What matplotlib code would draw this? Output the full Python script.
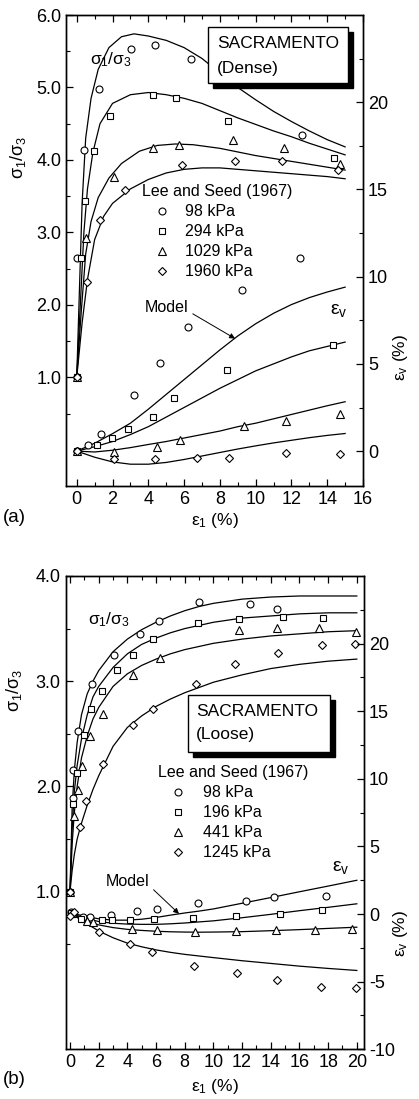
import matplotlib
matplotlib.use("Agg")
import matplotlib.pyplot as plt
from matplotlib.patches import Rectangle
from matplotlib.ticker import MultipleLocator, FixedLocator

plt.rcParams['font.family'] = ['Liberation Sans', 'DejaVu Sans']
plt.rcParams['mathtext.fontset'] = 'custom'
plt.rcParams['mathtext.rm'] = 'Liberation Sans'
plt.rcParams['mathtext.it'] = 'Liberation Sans'
plt.rcParams['mathtext.sf'] = 'Liberation Sans'
plt.rcParams['axes.unicode_minus'] = False
plt.rcParams['font.size'] = 12

W, H = 419, 1099
TICKFS = 13

# ---------------- (a) dense: Lee and Seed (1967) data ----------------
dense_labels = ['98 kPa', '294 kPa', '1029 kPa', '1960 kPa']

dense_q_x98 = [0, 0.0, 0.41, 1.24, 3.04, 4.35, 6.39, 12.6]
dense_q_y98 = [1.0, 2.65, 4.14, 4.98, 5.53, 5.58, 5.39, 4.34]
dense_q_x294 = [0, 0.25, 0.46, 0.96, 1.87, 4.24, 5.56, 8.46, 14.39]
dense_q_y294 = [1.0, 2.65, 3.43, 4.12, 4.61, 4.90, 4.86, 4.54, 4.03]
dense_q_x1029 = [0, 0.54, 2.07, 4.28, 5.7, 8.72, 11.59, 14.74]
dense_q_y1029 = [1.0, 2.92, 3.77, 4.17, 4.21, 4.27, 4.16, 3.95]
dense_q_x1960 = [0, 0.57, 1.31, 2.72, 5.89, 8.83, 11.5, 14.61]
dense_q_y1960 = [1.0, 2.31, 3.17, 3.59, 3.93, 3.98, 3.98, 3.86]

dense_ev_x98 = [0, 0.65, 1.33, 3.2, 4.65, 6.22, 9.24, 12.5]
dense_ev_y98 = [0, 0.36, 0.96, 3.2, 5.04, 7.13, 9.25, 11.05]
dense_ev_x294 = [0, 1.13, 1.98, 2.85, 4.28, 5.43, 8.41, 14.33]
dense_ev_y294 = [0, 0.33, 0.75, 1.28, 1.95, 3.03, 4.64, 6.09]
dense_ev_x1029 = [0, 2.11, 4.46, 5.76, 9.37, 11.67, 14.7]
dense_ev_y1029 = [0, -0.06, 0.25, 0.61, 1.44, 1.71, 2.11]
dense_ev_x1960 = [0, 2.11, 4.39, 6.7, 8.5, 11.68, 14.7]
dense_ev_y1960 = [0, -0.48, -0.48, -0.38, -0.38, -0.11, -0.17]

# model curves (dense)
dm_q_x98 = [0, 0.15, 0.3, 0.5, 0.8, 1.2, 1.8, 2.5, 3.2, 4, 5, 6, 7, 8, 9, 10, 11, 12, 13, 14, 15]
dm_q_y98 = [1.0, 2.2, 3.4, 4.3, 4.85, 5.25, 5.55, 5.7, 5.74, 5.71, 5.65, 5.55, 5.4, 5.2, 5.0,
            4.83, 4.67, 4.53, 4.4, 4.28, 4.18]
dm_q_x294 = [0, 0.2, 0.4, 0.6, 0.9, 1.3, 2, 3, 4, 5, 6, 7, 8, 9, 10, 11, 12, 13, 14, 15]
dm_q_y294 = [1.0, 2.0, 3.0, 3.6, 4.1, 4.5, 4.78, 4.9, 4.93, 4.9, 4.85, 4.78, 4.68, 4.58,
             4.49, 4.4, 4.32, 4.23, 4.15, 4.07]
dm_q_x1029 = [0, 0.25, 0.5, 0.8, 1.2, 1.8, 2.5, 3.5, 4.5, 5.5, 6.5, 8, 9, 10, 11, 12, 13, 14, 15]
dm_q_y1029 = [1.0, 1.9, 2.7, 3.15, 3.48, 3.75, 3.95, 4.12, 4.2, 4.22, 4.21, 4.16, 4.11,
              4.06, 4.02, 3.98, 3.94, 3.9, 3.86]
dm_q_x1960 = [0, 0.3, 0.6, 1, 1.5, 2, 3, 4, 5, 6, 7, 8, 9, 10, 11, 12, 13, 14, 15]
dm_q_y1960 = [1.0, 1.75, 2.35, 2.9, 3.22, 3.4, 3.6, 3.73, 3.82, 3.87, 3.89, 3.89, 3.87,
              3.85, 3.83, 3.81, 3.79, 3.77, 3.74]

dm_ev_x = [0, 1, 2, 3, 4, 5, 6, 7, 8, 9, 10, 11, 12, 13, 14, 15]
dm_ev_y98 = [0, 0.45, 1.0, 1.6, 2.4, 3.25, 4.1, 4.95, 5.8, 6.6, 7.3, 7.9, 8.4, 8.8, 9.12, 9.4]
dm_ev_y294 = [0, 0.25, 0.55, 0.95, 1.4, 1.95, 2.5, 3.05, 3.6, 4.1, 4.6, 5.0, 5.4, 5.75, 6.0, 6.25]
dm_ev_y1029 = [0, -0.05, 0.05, 0.2, 0.38, 0.55, 0.75, 0.95, 1.15, 1.4, 1.6, 1.85, 2.1, 2.35, 2.6, 2.83]
dm_ev_y1960 = [0, -0.35, -0.62, -0.75, -0.75, -0.65, -0.48, -0.28, -0.08, 0.12, 0.3, 0.47,
               0.62, 0.77, 0.9, 1.01]

# ---------------- (b) loose ----------------
loose_labels = ['98 kPa', '196 kPa', '441 kPa', '1245 kPa']

loose_q_x98 = [0, 0.19, 0.23, 0.58, 1.51, 3.07, 4.88, 6.22, 9.01, 12.54, 14.45]
loose_q_y98 = [1.0, 1.89, 2.16, 2.53, 2.97, 3.25, 3.45, 3.57, 3.75, 3.73, 3.69]
loose_q_x196 = [0, 0.23, 0.51, 0.98, 1.44, 2.21, 3.25, 4.41, 5.76, 8.94, 11.8, 14.86, 17.65]
loose_q_y196 = [1.0, 1.83, 2.13, 2.49, 2.74, 2.91, 3.11, 3.25, 3.40, 3.55, 3.59, 3.61, 3.60]
loose_q_x441 = [0, 0.3, 0.58, 0.86, 1.39, 2.28, 4.41, 6.27, 11.8, 14.45, 17.35, 19.93]
loose_q_y441 = [1.0, 1.72, 1.97, 2.19, 2.48, 2.69, 3.06, 3.22, 3.49, 3.51, 3.51, 3.47]
loose_q_x1245 = [0, 0.7, 1.11, 2.28, 4.41, 5.8, 8.78, 11.5, 14.52, 17.58, 19.86]
loose_q_y1245 = [1.0, 1.61, 1.86, 2.21, 2.58, 2.74, 2.97, 3.16, 3.27, 3.34, 3.35]

loose_ev_x98 = [0.07, 0.88, 1.39, 2.84, 4.69, 6.04, 8.94, 12.24, 14.24, 17.84]
loose_ev_y98 = [0.15, -0.22, -0.18, -0.05, 0.2, 0.37, 0.81, 0.94, 1.23, 1.36]
loose_ev_x196 = [0.1, 0.75, 2.21, 2.9, 4.18, 5.85, 8.59, 11.57, 14.63, 17.58]
loose_ev_y196 = [0.1, -0.37, -0.42, -0.47, -0.47, -0.37, -0.3, -0.13, 0.0, 0.27]
loose_ev_x441 = [0.15, 1.21, 1.62, 4.3, 6.04, 8.71, 11.57, 14.36, 17.07, 19.67]
loose_ev_y441 = [0.1, -0.54, -0.62, -1.11, -1.16, -1.29, -1.24, -1.16, -1.16, -1.11]
loose_ev_x1245 = [0.0, 0.25, 2.04, 4.18, 5.69, 8.64, 11.66, 14.45, 17.47, 19.91]
loose_ev_y1245 = [-0.15, 0.15, -1.29, -2.22, -2.77, -3.83, -4.37, -4.87, -5.36, -5.48]

lm_q_x = [0, 0.15, 0.3, 0.5, 0.8, 1.2, 1.6, 2, 3, 4, 5, 6, 7, 8, 9, 10, 12, 14, 16, 18, 20]
lm_q_y98 = [1.0, 1.8, 2.15, 2.42, 2.68, 2.88, 3.0, 3.1, 3.28, 3.4, 3.49, 3.56, 3.62, 3.67,
            3.71, 3.74, 3.78, 3.8, 3.81, 3.81, 3.81]
lm_q_y196 = [1.0, 1.6, 1.95, 2.2, 2.45, 2.68, 2.85, 2.95, 3.13, 3.26, 3.35, 3.41, 3.46, 3.5,
             3.53, 3.56, 3.6, 3.62, 3.64, 3.65, 3.65]
lm_q_y441 = [1.0, 1.45, 1.75, 2.0, 2.27, 2.48, 2.64, 2.75, 2.95, 3.07, 3.15, 3.21, 3.26, 3.3,
             3.33, 3.36, 3.4, 3.43, 3.45, 3.47, 3.48]
lm_q_y1245 = [1.0, 1.2, 1.35, 1.5, 1.65, 1.82, 1.97, 2.1, 2.38, 2.56, 2.67, 2.76, 2.83, 2.89,
              2.94, 2.99, 3.06, 3.12, 3.16, 3.19, 3.21]

lm_ev_x = [0, 1, 2, 3, 4, 5, 6, 7, 8, 9, 10, 12, 14, 16, 18, 20]
lm_ev_y98 = [0.1, -0.15, -0.35, -0.45, -0.45, -0.38, -0.25, -0.08, 0.08, 0.22, 0.38, 0.8,
             1.22, 1.65, 2.07, 2.5]
lm_ev_y196 = [0.1, -0.3, -0.55, -0.68, -0.74, -0.76, -0.76, -0.72, -0.66, -0.58, -0.5, -0.27,
              -0.02, 0.25, 0.5, 0.76]
lm_ev_y441 = [0.1, -0.45, -0.8, -1.0, -1.13, -1.21, -1.27, -1.31, -1.33, -1.34, -1.33, -1.3,
              -1.23, -1.15, -1.06, -0.97]
lm_ev_y1245 = [0.1, -0.6, -1.25, -1.75, -2.15, -2.42, -2.65, -2.83, -2.98, -3.1, -3.22, -3.45,
               -3.65, -3.85, -4.02, -4.17]

markers = ['o', 's', '^', 'D']
msizes = [5, 4.6, 5.4, 4.2]


def fpos(x, y):
    return x / W, 1 - y / H


def style_axes(ax, ax2):
    ax.tick_params(axis='both', which='both', direction='in', top=True, labelsize=TICKFS)
    ax.tick_params(which='major', length=5, width=0.9)
    ax.tick_params(which='minor', length=3, width=0.8)
    ax2.tick_params(axis='y', which='both', direction='in', labelsize=TICKFS)
    ax2.tick_params(which='major', length=5, width=0.9)
    ax2.tick_params(which='minor', length=3, width=0.8)
    ax.xaxis.set_major_locator(MultipleLocator(2))
    ax.xaxis.set_minor_locator(MultipleLocator(1))
    for sp in ax.spines.values():
        sp.set_linewidth(1.0)
    for sp in ax2.spines.values():
        sp.set_linewidth(1.0)


def draw_box(fig, x0, y0, x1, y1, lines):
    fx0, fy1 = fpos(x0, y1)
    fx1, fy0 = fpos(x1, y0)
    dx, dy = 5 / W, 5 / H
    fig.patches.append(Rectangle((fx0 + dx, fy1 - dy), fx1 - fx0, fy0 - fy1,
                                 transform=fig.transFigure, facecolor='black',
                                 edgecolor='black', zorder=5))
    fig.patches.append(Rectangle((fx0, fy1), fx1 - fx0, fy0 - fy1,
                                 transform=fig.transFigure, facecolor='white',
                                 edgecolor='black', lw=1.0, zorder=6))
    for (tx, ty, s) in lines:
        fx, fy = fpos(tx, ty)
        fig.text(fx, fy, s, fontsize=12.5, ha='left', va='center', zorder=7)


fig = plt.figure(figsize=(W / 100, H / 100), dpi=100)

# ================= panel (a) =================
ax = fig.add_axes([66 / W, 1 - 486 / H, 297 / W, 471 / H])
ax2 = ax.twinx()

q_x = [dense_q_x98, dense_q_x294, dense_q_x1029, dense_q_x1960]
q_y = [dense_q_y98, dense_q_y294, dense_q_y1029, dense_q_y1960]
e_x = [dense_ev_x98, dense_ev_x294, dense_ev_x1029, dense_ev_x1960]
e_y = [dense_ev_y98, dense_ev_y294, dense_ev_y1029, dense_ev_y1960]
mq_x = [dm_q_x98, dm_q_x294, dm_q_x1029, dm_q_x1960]
mq_y = [dm_q_y98, dm_q_y294, dm_q_y1029, dm_q_y1960]
me_y = [dm_ev_y98, dm_ev_y294, dm_ev_y1029, dm_ev_y1960]

handles = []
for i in range(4):
    ax.plot(mq_x[i], mq_y[i], color='black', lw=0.9)
    ax2.plot(dm_ev_x, me_y[i], color='black', lw=0.9)
    h, = ax.plot(q_x[i], q_y[i], ls='none', marker=markers[i], ms=msizes[i],
                 mfc='white', mec='black', mew=0.8, zorder=4)
    ax2.plot(e_x[i], e_y[i], ls='none', marker=markers[i], ms=msizes[i],
             mfc='white', mec='black', mew=0.8, zorder=4)
    handles.append(h)

ax.set_xlim(-0.6, 16)
ax.set_ylim(-0.5, 6.0)
ax2.set_ylim(-2, 25)
ax.yaxis.set_major_locator(FixedLocator([1, 2, 3, 4, 5, 6]))
ax.yaxis.set_minor_locator(FixedLocator([0.5, 1.5, 2.5, 3.5, 4.5, 5.5]))
ax.set_yticklabels(['1.0', '2.0', '3.0', '4.0', '5.0', '6.0'])
ax2.yaxis.set_major_locator(FixedLocator([0, 5, 10, 15, 20]))
ax2.yaxis.set_minor_locator(FixedLocator([2.5, 7.5, 12.5, 17.5, 22.5]))
style_axes(ax, ax2)

ax.legend(handles, dense_labels, title='Lee and Seed (1967)', loc='upper left',
          bbox_to_anchor=fpos(141.7, 184), bbox_transform=fig.transFigure,
          frameon=False, borderpad=0, borderaxespad=0, handlelength=2.5,
          handletextpad=0.2, labelspacing=0.32, alignment='left',
          fontsize=11.5, title_fontsize=11.5)

fig.text(*fpos(90, 60), r'$\sigma_1/\sigma_3$', fontsize=12.5, ha='left', va='center')
fig.text(*fpos(330, 310), r'$\varepsilon_v$', fontsize=14, ha='left', va='center')
ax2.annotate('Model', xy=(8.85, 6.45), xytext=fpos(167, 307), textcoords='figure fraction',
             fontsize=11.5, ha='center', va='center',
             arrowprops=dict(arrowstyle='-|>', color='black', lw=0.7, mutation_scale=8,
                             shrinkA=1, shrinkB=0, relpos=(1.0, 0.2)))
draw_box(fig, 208.3, 27.3, 348.3, 82.7,
         [(216.7, 43, 'SACRAMENTO'), (216.7, 68, '(Dense)')])

fig.text(*fpos(18, 157), r'$\sigma_1/\sigma_3$', rotation=90, fontsize=13,
         ha='center', va='center')
fig.text(*fpos(400, 357), r'$\varepsilon_v$ (%)', rotation=90, fontsize=12.5,
         ha='center', va='center')
fig.text(*fpos(215, 521), r'$\varepsilon_1$ (%)', fontsize=12.5, ha='center', va='center')
fig.text(*fpos(3, 518), '(a)', fontsize=13.5, ha='left', va='center')

# ================= panel (b) =================
bx = fig.add_axes([65.7 / W, 1 - 1049.3 / H, 298.3 / W, 473.3 / H])
bx2 = bx.twinx()

q_x = [loose_q_x98, loose_q_x196, loose_q_x441, loose_q_x1245]
q_y = [loose_q_y98, loose_q_y196, loose_q_y441, loose_q_y1245]
e_x = [loose_ev_x98, loose_ev_x196, loose_ev_x441, loose_ev_x1245]
e_y = [loose_ev_y98, loose_ev_y196, loose_ev_y441, loose_ev_y1245]
mq_y = [lm_q_y98, lm_q_y196, lm_q_y441, lm_q_y1245]
me_y = [lm_ev_y98, lm_ev_y196, lm_ev_y441, lm_ev_y1245]

handles = []
for i in range(4):
    bx.plot(lm_q_x, mq_y[i], color='black', lw=0.9)
    bx2.plot(lm_ev_x, me_y[i], color='black', lw=0.9)
    h, = bx.plot(q_x[i], q_y[i], ls='none', marker=markers[i], ms=msizes[i],
                 mfc='white', mec='black', mew=0.8, zorder=4)
    bx2.plot(e_x[i], e_y[i], ls='none', marker=markers[i], ms=msizes[i],
             mfc='white', mec='black', mew=0.8, zorder=4)
    handles.append(h)

bx.set_xlim(-0.3, 20.5)
bx.set_ylim(-0.5, 4.0)
bx2.set_ylim(-10, 25)
bx.yaxis.set_major_locator(FixedLocator([1, 2, 3, 4]))
bx.yaxis.set_minor_locator(FixedLocator([0.5, 1.5, 2.5, 3.5]))
bx.set_yticklabels(['1.0', '2.0', '3.0', '4.0'])
bx2.yaxis.set_major_locator(FixedLocator([-10, -5, 0, 5, 10, 15, 20]))
bx2.yaxis.set_minor_locator(FixedLocator([-7.5, -2.5, 2.5, 7.5, 12.5, 17.5, 22.5]))
style_axes(bx, bx2)

bx.legend(handles, loose_labels, title='Lee and Seed (1967)', loc='upper left',
          bbox_to_anchor=fpos(158.3, 765), bbox_transform=fig.transFigure,
          frameon=False, borderpad=0, borderaxespad=0, handlelength=2.5,
          handletextpad=0.3, labelspacing=0.32, alignment='left',
          fontsize=11.5, title_fontsize=11.5)

fig.text(*fpos(88, 620), r'$\sigma_1/\sigma_3$', fontsize=12.5, ha='left', va='center')
fig.text(*fpos(332, 868), r'$\varepsilon_v$', fontsize=14, ha='left', va='center')
bx2.annotate('Model', xy=(7.6, 0.02), xytext=fpos(128, 881.7), textcoords='figure fraction',
             fontsize=11.5, ha='center', va='center',
             arrowprops=dict(arrowstyle='-|>', color='black', lw=0.7, mutation_scale=8,
                             shrinkA=1, shrinkB=0, relpos=(1.0, 0.2)))
draw_box(fig, 188.3, 695, 330, 751.7,
         [(196, 711, 'SACRAMENTO'), (196, 735, '(Loose)')])

fig.text(*fpos(14, 690), r'$\sigma_1/\sigma_3$', rotation=90, fontsize=13,
         ha='center', va='center')
fig.text(*fpos(400, 933), r'$\varepsilon_v$ (%)', rotation=90, fontsize=12.5,
         ha='center', va='center')
fig.text(*fpos(215, 1086), r'$\varepsilon_1$ (%)', fontsize=12.5, ha='center', va='center')
fig.text(*fpos(3, 1080), '(b)', fontsize=13.5, ha='left', va='center')

fig.savefig('out.png', dpi=100)
